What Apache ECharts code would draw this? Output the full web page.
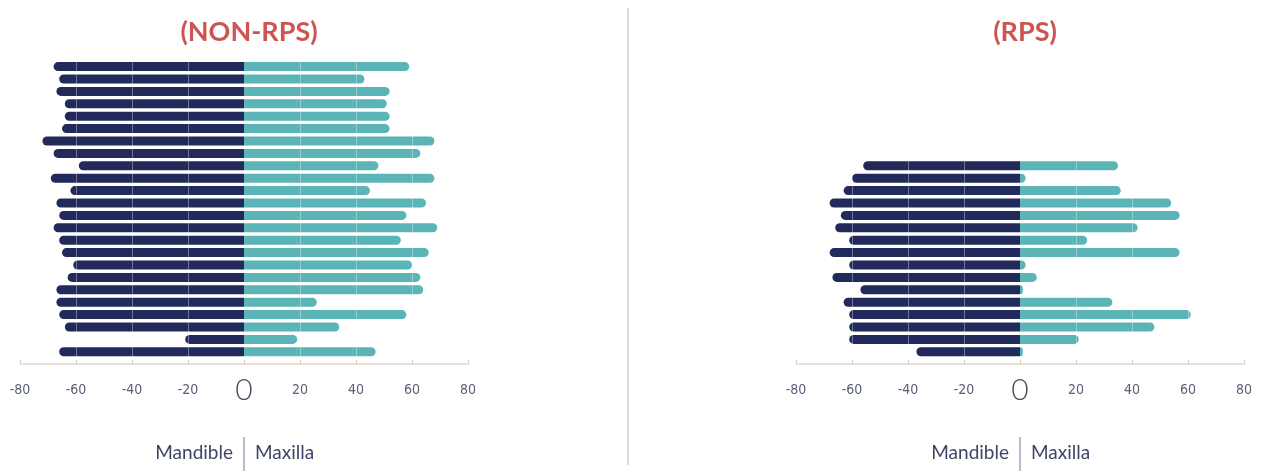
<!DOCTYPE html>
<html>
<head>
<meta charset="utf-8">
<script src="https://cdn.jsdelivr.net/npm/echarts@6/dist/echarts.min.js"></script>
<style>
  html, body { margin: 0; padding: 0; background: #ffffff; }
  #chart { width: 1261px; height: 473px; }
</style>
</head>
<body>
<div id="chart"></div>
<script>
// Panel titles
const titles = ['(NON-RPS)', '(RPS)'];

// Non-RPS group: one row per subject, top to bottom
const nonRpsSubjects = ['1','2','3','4','5','6','7','8','9','10','11','12',
                        '13','14','15','16','17','18','19','20','21','22','23','24'];
const nonRpsMandible = [68, 66, 67, 64, 64, 65, 72, 68, 59, 69, 62, 67,
                        66, 68, 66, 65, 61, 63, 67, 67, 66, 64, 21, 66];
const nonRpsMaxilla  = [59, 43, 52, 51, 52, 52, 68, 63, 48, 68, 45, 65,
                        58, 69, 56, 66, 60, 63, 64, 26, 58, 34, 19, 47];

// RPS group
const rpsSubjects = ['1','2','3','4','5','6','7','8','9','10','11','12','13','14','15','16'];
const rpsMandible = [56, 60, 63, 68, 64, 66, 61, 68, 61, 67, 57, 63, 61, 61, 61, 37];
const rpsMaxilla  = [35, 2, 36, 54, 57, 42, 24, 57, 2, 6, 1, 33, 61, 48, 21, 1];

// Shared value-axis ticks
const axisMin = -80, axisMax = 80, axisStep = 20;

const NAVY = '#222a5b';
const TEAL = '#5bb4b6';
const ROW = 12.4;         // pitch of one row in px
const AXIS_Y = 364;       // y of the value-axis line

const chart = echarts.init(document.getElementById('chart'));

function panelGrid(left, rows) {
  const height = rows * ROW;
  const bottomEdge = AXIS_Y - 6;
  return { left: left, width: 448, top: bottomEdge - height, height: height, containLabel: false };
}

function xAxisFor(gridIndex) {
  return {
    type: 'value', gridIndex: gridIndex, min: axisMin, max: axisMax, interval: axisStep,
    offset: 6,
    axisLine: { show: true, lineStyle: { color: '#e3d9cc', width: 1.5 } },
    axisTick: { show: true, length: 4, inside: true, lineStyle: { color: '#d9cfc2' } },
    splitLine: { show: false },
    axisLabel: {
      margin: 12,
      formatter: v => v === 0 ? '{z|0}' : '{n|' + v + '}',
      rich: {
        n: { fontFamily: 'DejaVu Sans Condensed', fontSize: 14, color: '#5b6079', lineHeight: 28 },
        z: { fontFamily: 'Lato', fontSize: 30, fontWeight: 300, color: '#4a4d5c', lineHeight: 28 }
      }
    }
  };
}

function yAxisFor(gridIndex, cats) {
  return {
    type: 'category', gridIndex: gridIndex, data: cats, inverse: true,
    axisLine: { show: false }, axisTick: { show: false }, axisLabel: { show: false },
    splitLine: { show: false }
  };
}

// faint white guides that show across the bars
const guideLines = {
  silent: true, symbol: 'none', label: { show: false },
  lineStyle: { color: 'rgba(255,255,255,0.35)', type: 'solid', width: 1 },
  data: [-60, -40, -20, 20, 40, 60].map(v => ({ xAxis: v }))
};

function panelSeries(idx, mand, maxi) {
  return [
    {
      name: 'Mandible', type: 'bar', xAxisIndex: idx, yAxisIndex: idx, stack: 'p' + idx,
      barWidth: 9, data: mand.map(v => -v),
      itemStyle: { color: NAVY, borderRadius: [4.5, 0, 0, 4.5] },
      markLine: guideLines
    },
    {
      name: 'Maxilla', type: 'bar', xAxisIndex: idx, yAxisIndex: idx, stack: 'p' + idx,
      barWidth: 9, data: maxi,
      itemStyle: { color: TEAL, borderRadius: [0, 4.5, 4.5, 0] }
    }
  ];
}

function sideLabels(cx) {
  const font = { fontFamily: 'Lato', fontSize: 19, fill: '#3f4566' };
  return [
    { type: 'text', x: cx - 11, y: 453,
      style: Object.assign({ text: 'Mandible', textAlign: 'right', textVerticalAlign: 'middle' }, font) },
    { type: 'text', x: cx + 11, y: 453,
      style: Object.assign({ text: 'Maxilla', textAlign: 'left', textVerticalAlign: 'middle' }, font) },
    { type: 'line', shape: { x1: cx, y1: 437, x2: cx, y2: 471 },
      style: { stroke: '#8a8fae', lineWidth: 1.2 } }
  ];
}

const titleStyle = { color: '#cc5551', fontFamily: 'Lato', fontSize: 27, fontWeight: 'bold' };

chart.setOption({
  animation: false,
  backgroundColor: '#ffffff',
  title: [
    { text: titles[0], left: 244, top: 14, textAlign: 'center', textStyle: titleStyle },
    { text: titles[1], left: 1020, top: 14, textAlign: 'center', textStyle: titleStyle }
  ],
  grid: [panelGrid(20, nonRpsSubjects.length), panelGrid(796, rpsSubjects.length)],
  xAxis: [xAxisFor(0), xAxisFor(1)],
  yAxis: [yAxisFor(0, nonRpsSubjects), yAxisFor(1, rpsSubjects)],
  series: panelSeries(0, nonRpsMandible, nonRpsMaxilla)
    .concat(panelSeries(1, rpsMandible, rpsMaxilla)),
  graphic: [
    { type: 'line', shape: { x1: 628, y1: 8, x2: 628, y2: 465 },
      style: { stroke: '#e4dbd0', lineWidth: 2 } }
  ].concat(sideLabels(244), sideLabels(1020))
});
</script>
</body>
</html>
